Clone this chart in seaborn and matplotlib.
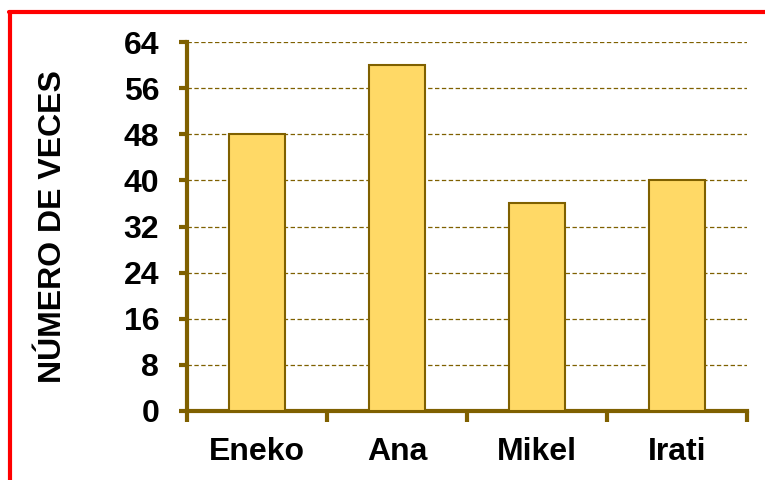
import matplotlib
matplotlib.use("Agg")
import matplotlib.pyplot as plt
import seaborn as sns
import pandas as pd
from matplotlib.lines import Line2D

# data
nombres = ["Eneko", "Ana", "Mikel", "Irati"]
veces = [48, 60, 36, 40]
y_ticks = [0, 8, 16, 24, 32, 40, 48, 56, 64]

df = pd.DataFrame({"nombre": nombres, "veces": veces})

sns.set_theme(style="white")
plt.rcParams["font.family"] = ["Liberation Sans", "DejaVu Sans"]

brown = "#7F6000"
fill = "#FFD966"

fig = plt.figure(figsize=(7.65, 4.8), dpi=100)
ax = fig.add_axes([187 / 765, 1 - 411 / 480, 560 / 765, 369 / 480])

sns.barplot(data=df, x="nombre", y="veces", color=fill, width=0.4,
            edgecolor=brown, linewidth=1.5, saturation=1, ax=ax, zorder=3)

ax.set_ylim(0, 64)
ax.set_xlim(-0.5, len(nombres) - 0.5)
ax.set_yticks(y_ticks)
ax.yaxis.grid(True, linestyle=(0, (3.5, 2)), color=brown, linewidth=0.9)
ax.set_axisbelow(True)

for side in ["top", "right"]:
    ax.spines[side].set_visible(False)
for side in ["left", "bottom"]:
    ax.spines[side].set_color(brown)
    ax.spines[side].set_linewidth(3)

ax.tick_params(axis="y", direction="out", length=6, width=3, color=brown,
               labelsize=23, pad=14, left=True)
ax.tick_params(axis="x", which="major", length=0, labelsize=23, pad=19)
ax.set_xticks([i + 0.5 for i in range(-1, len(nombres))], minor=True)
ax.tick_params(axis="x", which="minor", direction="out", length=8, width=3,
               color=brown, bottom=True)
for lab in ax.get_xticklabels() + ax.get_yticklabels():
    lab.set_fontweight("bold")
    lab.set_color("black")

ax.set_xlabel("")
ax.set_ylabel("NÚMERO DE VECES", fontsize=23, fontweight="bold",
              color="black", labelpad=40)

# red frame on the left and top edges
fig.add_artist(Line2D([10 / 765, 10 / 765], [0, 1 - 11.5 / 480], color="red",
                      linewidth=3, transform=fig.transFigure))
fig.add_artist(Line2D([8.5 / 765, 1], [1 - 11.5 / 480, 1 - 11.5 / 480], color="red",
                      linewidth=3, transform=fig.transFigure))

fig.savefig("out.png", dpi=100)
